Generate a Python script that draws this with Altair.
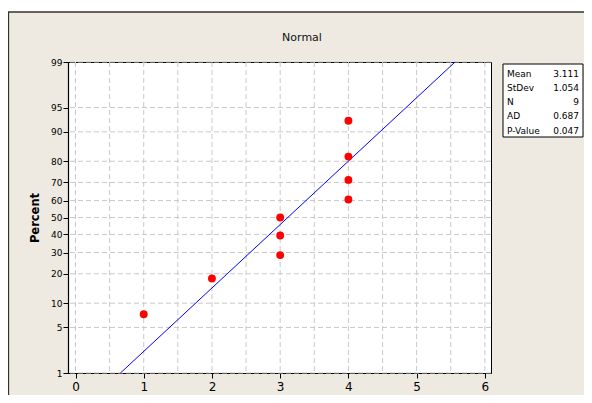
import altair as alt
import pandas as pd
from statistics import NormalDist

# ---- data ----
x_values = [1, 2, 3, 3, 3, 4, 4, 4, 4]
percent_values = [7.4, 18.1, 28.7, 39.4, 50.0, 60.6, 71.3, 81.9, 92.6]
percent_ticks = [1, 5, 10, 20, 30, 40, 50, 60, 70, 80, 90, 95, 99]
x_ticks = [0, 1, 2, 3, 4, 5, 6]
x_grid = [0, 0.5, 1, 1.5, 2, 2.5, 3, 3.5, 4, 4.5, 5, 5.5, 6]
fit_percents = [1, 99]
mean = 3.111
stdev = 1.054
stat_names = ["Mean", "StDev", "N", "AD", "P-Value"]
stat_values = ["3.111", "1.054", "9", "0.687", "0.047"]
title_text = "Normal"
y_title = "Percent"

FONT = "DejaVu Sans"
BG = "#EEEAE1"

nd = NormalDist()
z_ticks = [nd.inv_cdf(p / 100) for p in percent_ticks]
zmin, zmax = z_ticks[0], z_ticks[-1]

W, H = 423, 311

xscale = alt.Scale(domain=[-0.11, 6.09], nice=False, zero=False)
yscale = alt.Scale(domain=[zmin, zmax], nice=False, zero=False)

xaxis = alt.Axis(values=x_ticks, title=None, grid=False, format="d",
                 labelFont=FONT, labelFontSize=12, labelColor="#000",
                 tickColor="#000", tickSize=5, labelPadding=3,
                 domainColor="#000", domainWidth=1.2)
yaxis = alt.Axis(values=z_ticks, grid=False,
                 labelExpr="format(round(cumulativeNormal(datum.value)*100), 'd')",
                 labelFont=FONT, labelFontSize=9, labelColor="#000",
                 tickColor="#000", tickSize=5, labelPadding=1,
                 domainColor="#000", domainWidth=1.2,
                 title=y_title, titleFont=FONT, titleFontSize=11.5,
                 titleFontWeight="bold", titleColor="#000",
                 titleAngle=-90, titleAlign="center", titleBaseline="middle",
                 titleX=-33, titleY=H / 2)

one = pd.DataFrame({"a": [0]})

vgrid = alt.Chart(pd.DataFrame({"x": x_grid})).mark_rule(
    color="#C8C8C8", strokeDash=[5, 3], strokeWidth=1
).encode(x=alt.X("x:Q", scale=xscale, axis=xaxis))

hgrid = alt.Chart(pd.DataFrame({"pct": percent_ticks})).transform_calculate(
    z="quantileNormal(datum.pct/100)"
).mark_rule(color="#C8C8C8", strokeDash=[5, 3], strokeWidth=1).encode(
    y=alt.Y("z:Q", scale=yscale, axis=yaxis))

fit = alt.Chart(pd.DataFrame({"pct": fit_percents})).transform_calculate(
    z="quantileNormal(datum.pct/100)",
    x=f"{mean} + {stdev} * quantileNormal(datum.pct/100)"
).mark_line(color="#0000FF", strokeWidth=1).encode(
    x=alt.X("x:Q", scale=xscale, axis=xaxis),
    y=alt.Y("z:Q", scale=yscale, axis=yaxis))

pts = alt.Chart(pd.DataFrame({"x": x_values, "pct": percent_values})).transform_calculate(
    z="quantileNormal(datum.pct/100)"
).mark_circle(color="#FF0000", size=62, opacity=1).encode(
    x=alt.X("x:Q", scale=xscale, axis=xaxis),
    y=alt.Y("z:Q", scale=yscale, axis=yaxis))

# decorations: white top strip and black frame lines of the panel
strip = alt.Chart(one).mark_rect(color="white").encode(
    x=alt.value(-61), x2=alt.value(530), y=alt.value(-55), y2=alt.value(-50))
topline = alt.Chart(one).mark_rule(color="#333", strokeWidth=1.3).encode(
    x=alt.value(-60), x2=alt.value(530), y=alt.value(-50))
leftline = alt.Chart(one).mark_rule(color="#333", strokeWidth=1.3).encode(
    x=alt.value(-59.5), y=alt.value(-50), y2=alt.value(400))

title = alt.Chart(one).mark_text(
    text=title_text, font=FONT, fontSize=11, color="#111",
    align="center", baseline="middle"
).encode(x=alt.value(234), y=alt.value(-24))

box = alt.Chart(one).mark_rect(fill="white", stroke="#000", strokeWidth=1).encode(
    x=alt.value(435), x2=alt.value(515), y=alt.value(2), y2=alt.value(75))
names = alt.Chart(one).mark_text(
    text="\n".join(stat_names), lineBreak="\n", lineHeight=14.3,
    font=FONT, fontSize=9, color="#000", align="left", baseline="alphabetic"
).encode(x=alt.value(439), y=alt.value(14.5))
vals = alt.Chart(one).mark_text(
    text="\n".join(stat_values), lineBreak="\n", lineHeight=14.3,
    font=FONT, fontSize=9, color="#000", align="right", baseline="alphabetic"
).encode(x=alt.value(511), y=alt.value(14.5))

chart = alt.layer(
    vgrid, hgrid, fit, pts, strip, topline, leftline, title, box, names, vals
).properties(
    width=W, height=H,
    autosize=alt.AutoSizeParams(type="none"),
    padding={"left": 60, "top": 54, "right": 93, "bottom": 22},
    background=BG,
).configure_view(fill="white", stroke="#000", strokeWidth=1)

chart.save("out.html", embed_options={"renderer": "svg", "actions": False})
